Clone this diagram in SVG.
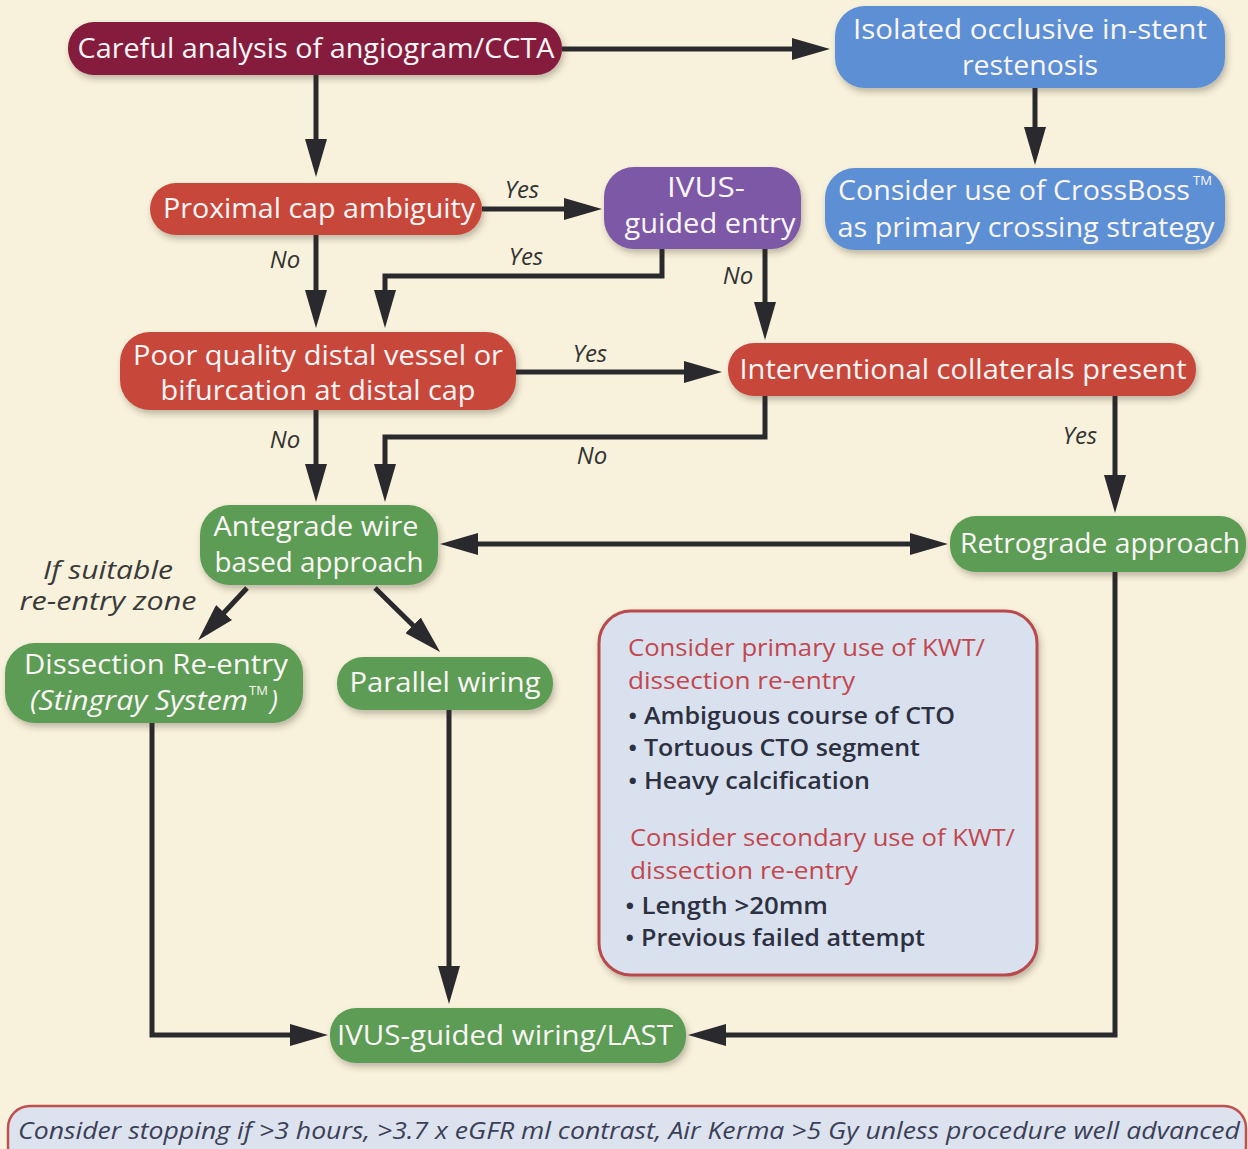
<svg xmlns="http://www.w3.org/2000/svg" width="1248" height="1149" viewBox="0 0 1248 1149">
  <defs>
    <filter id="shadow" x="-10%" y="-20%" width="120%" height="150%">
      <feDropShadow dx="2" dy="4" stdDeviation="3" flood-color="#3a3020" flood-opacity="0.3"/>
    </filter>
    <marker id="arrow" markerUnits="userSpaceOnUse" markerWidth="38" markerHeight="22" refX="28" refY="11" orient="auto-start-reverse">
      <path d="M0,0 L38,11 L0,22 Z" fill="#2a2a2e"/>
    </marker>
    <style>
      .node text { font-family: "Open Sans", "Noto Sans", sans-serif; font-size: 27px; fill: #fbf6f6; text-anchor: middle; }
      .node text.tm { font-size: 13px; text-anchor: start; }
      .maroon { fill: #861a3c; }
      .red { fill: #c8473b; }
      .blue { fill: #5b8fd4; }
      .purple { fill: #7b58a6; }
      .green { fill: #5b9c55; }
      .edge { fill: none; stroke: #2a2a2e; stroke-width: 5; marker-end: url(#arrow); }
      .lbl { font-family: "Open Sans", "Noto Sans", sans-serif; font-style: italic; font-size: 24px; fill: #333; text-anchor: middle; }
      .hint { font-family: "Open Sans", "Noto Sans", sans-serif; font-style: italic; font-size: 25px; fill: #3a3a3a; text-anchor: middle; }
      .info-h { font-family: "Open Sans", "Noto Sans", sans-serif; font-size: 24px; fill: #c2474f; }
      .info-b { font-family: "Open Sans", "Noto Sans", sans-serif; font-size: 24px; font-weight: 600; fill: #2d3040; }
    </style>
  </defs>

  <!-- page background -->
  <rect x="0" y="0" width="1248" height="1149" fill="#f8f2dc"/>

  <!-- connectors -->
  <g id="connectors">
    <path class="edge" d="M562,49 H820"/>
    <path class="edge" d="M316,75 V167"/>
    <path class="edge" d="M482,209 H592"/>
    <path class="edge" d="M316,235 V318"/>
    <path class="edge" d="M662,248 V276 H385 V318"/>
    <path class="edge" d="M765,248 V330"/>
    <path class="edge" d="M1035,87 V155"/>
    <path class="edge" d="M515,372 H712"/>
    <path class="edge" d="M316,410 V492"/>
    <path class="edge" d="M765,396 V437 H385 V492"/>
    <path class="edge" d="M1115,396 V503"/>
    <path class="edge" d="M450,544 H938" marker-start="url(#arrow)"/>
    <path class="edge" d="M247,588 L205,633"/>
    <path class="edge" d="M375,588 L433,645"/>
    <path class="edge" d="M152,722 V1035 H318"/>
    <path class="edge" d="M449,710 V994"/>
    <path class="edge" d="M1115,572 V1035 H698"/>

    <text class="lbl" x="522" y="198">Yes</text>
    <text class="lbl" x="285" y="268">No</text>
    <text class="lbl" x="526" y="265">Yes</text>
    <text class="lbl" x="738" y="284">No</text>
    <text class="lbl" x="590" y="362">Yes</text>
    <text class="lbl" x="285" y="448">No</text>
    <text class="lbl" x="592" y="464">No</text>
    <text class="lbl" x="1080" y="444">Yes</text>
    <text class="hint" x="108" y="579" textLength="130" lengthAdjust="spacingAndGlyphs">If suitable</text>
    <text class="hint" x="108" y="610" textLength="177" lengthAdjust="spacingAndGlyphs">re-entry zone</text>
  </g>

  <!-- nodes -->
  <g id="careful-analysis" class="node">
    <rect class="maroon" x="68" y="22" width="494" height="53" rx="26" filter="url(#shadow)"/>
    <text x="316" y="58" textLength="477" lengthAdjust="spacingAndGlyphs">Careful analysis of angiogram/CCTA</text>
  </g>

  <g id="isr" class="node">
    <rect class="blue" x="835" y="6" width="390" height="82" rx="30" filter="url(#shadow)"/>
    <text x="1030" y="39" textLength="354" lengthAdjust="spacingAndGlyphs">Isolated occlusive in-stent</text>
    <text x="1030" y="75" textLength="136" lengthAdjust="spacingAndGlyphs">restenosis</text>
  </g>

  <g id="proximal-cap" class="node">
    <rect class="red" x="150" y="183" width="332" height="52" rx="26" filter="url(#shadow)"/>
    <text x="319" y="218" textLength="312" lengthAdjust="spacingAndGlyphs">Proximal cap ambiguity</text>
  </g>

  <g id="ivus-entry" class="node">
    <rect class="purple" x="604" y="167" width="197" height="82" rx="30" filter="url(#shadow)"/>
    <text x="706" y="197" textLength="78" lengthAdjust="spacingAndGlyphs">IVUS-</text>
    <text x="710" y="233" textLength="171" lengthAdjust="spacingAndGlyphs">guided entry</text>
  </g>

  <g id="crossboss" class="node">
    <rect class="blue" x="825" y="168" width="400" height="82" rx="30" filter="url(#shadow)"/>
    <text x="1014" y="200" textLength="352" lengthAdjust="spacingAndGlyphs">Consider use of CrossBoss</text>
    <text class="tm" x="1193" y="185">TM</text>
    <text x="1026" y="237" textLength="377" lengthAdjust="spacingAndGlyphs">as primary crossing strategy</text>
  </g>

  <g id="distal-vessel" class="node">
    <rect class="red" x="120" y="332" width="396" height="78" rx="30" filter="url(#shadow)"/>
    <text x="318" y="365" textLength="370" lengthAdjust="spacingAndGlyphs">Poor quality distal vessel or</text>
    <text x="318" y="400" textLength="315" lengthAdjust="spacingAndGlyphs">bifurcation at distal cap</text>
  </g>

  <g id="collaterals" class="node">
    <rect class="red" x="728" y="343" width="468" height="53" rx="26" filter="url(#shadow)"/>
    <text x="963" y="379" textLength="447" lengthAdjust="spacingAndGlyphs">Interventional collaterals present</text>
  </g>

  <g id="antegrade" class="node">
    <rect class="green" x="200" y="505" width="238" height="80" rx="30" filter="url(#shadow)"/>
    <text x="316" y="536" textLength="205" lengthAdjust="spacingAndGlyphs">Antegrade wire</text>
    <text x="319" y="572" textLength="209" lengthAdjust="spacingAndGlyphs">based approach</text>
  </g>

  <g id="retrograde" class="node">
    <rect class="green" x="950" y="516" width="296" height="56" rx="26" filter="url(#shadow)"/>
    <text x="1100" y="553" textLength="280" lengthAdjust="spacingAndGlyphs">Retrograde approach</text>
  </g>

  <g id="dissection-reentry" class="node">
    <rect class="green" x="5" y="643" width="298" height="80" rx="30" filter="url(#shadow)"/>
    <text x="156" y="674" textLength="264" lengthAdjust="spacingAndGlyphs">Dissection Re-entry</text>
    <text x="30" y="710" style="text-anchor:start;font-style:italic" textLength="218" lengthAdjust="spacingAndGlyphs">(Stingray System</text>
    <text class="tm" x="249" y="695">TM</text>
    <text x="274" y="710" style="font-style:italic">)</text>
  </g>

  <g id="parallel-wiring" class="node">
    <rect class="green" x="337" y="657" width="216" height="53" rx="26" filter="url(#shadow)"/>
    <text x="445" y="692" textLength="191" lengthAdjust="spacingAndGlyphs">Parallel wiring</text>
  </g>

  <g id="ivus-wiring" class="node">
    <rect class="green" x="330" y="1008" width="356" height="55" rx="26" filter="url(#shadow)"/>
    <text x="505" y="1045" textLength="336" lengthAdjust="spacingAndGlyphs">IVUS-guided wiring/LAST</text>
  </g>

  <!-- KWT / dissection re-entry guidance panel -->
  <g id="kwt-panel">
    <rect x="599" y="611" width="438" height="364" rx="32" fill="#d9e1ee" stroke="#b84a4d" stroke-width="3" filter="url(#shadow)"/>
    <text class="info-h" x="628" y="656" textLength="357" lengthAdjust="spacingAndGlyphs">Consider primary use of KWT/</text>
    <text class="info-h" x="628" y="689" textLength="227" lengthAdjust="spacingAndGlyphs">dissection re-entry</text>
    <text class="info-b" x="628" y="724" textLength="327" lengthAdjust="spacingAndGlyphs">• Ambiguous course of CTO</text>
    <text class="info-b" x="628" y="756" textLength="292" lengthAdjust="spacingAndGlyphs">• Tortuous CTO segment</text>
    <text class="info-b" x="628" y="789" textLength="242" lengthAdjust="spacingAndGlyphs">• Heavy calcification</text>
    <text class="info-h" x="630" y="846" textLength="385" lengthAdjust="spacingAndGlyphs">Consider secondary use of KWT/</text>
    <text class="info-h" x="630" y="879" textLength="228" lengthAdjust="spacingAndGlyphs">dissection re-entry</text>
    <text class="info-b" x="625" y="914" textLength="203" lengthAdjust="spacingAndGlyphs">• Length &gt;20mm</text>
    <text class="info-b" x="625" y="946" textLength="300" lengthAdjust="spacingAndGlyphs">• Previous failed attempt</text>
  </g>

  <!-- stopping criteria banner -->
  <g id="stop-criteria">
    <rect x="8" y="1106" width="1238" height="62" rx="22" fill="#dde3ee" stroke="#c0504d" stroke-width="2.5"/>
    <text x="629" y="1139" font-family="Open Sans, Noto Sans, sans-serif" font-style="italic" font-size="24" fill="#3b3f58" text-anchor="middle" textLength="1222" lengthAdjust="spacingAndGlyphs">Consider stopping if &gt;3 hours, &gt;3.7 x eGFR ml contrast, Air Kerma &gt;5 Gy unless procedure well advanced</text>
  </g>
</svg>
